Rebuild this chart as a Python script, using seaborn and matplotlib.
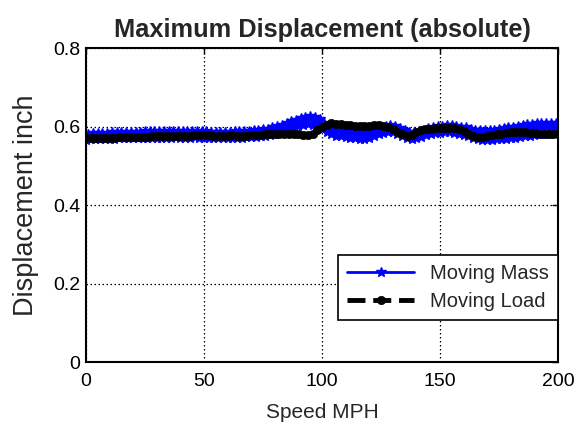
import numpy as np
import pandas as pd
import matplotlib
matplotlib.use("Agg")
import matplotlib.pyplot as plt
import seaborn as sns

# Moving Mass (blue): one sample per mph, it zig-zags point to point
speed_mass = list(range(0, 201))
moving_mass = [
    0.566, 0.582, 0.567, 0.583, 0.568, 0.583, 0.568, 0.584, 0.569, 0.584,
    0.569, 0.585, 0.569, 0.585, 0.570, 0.586, 0.570, 0.586, 0.570, 0.586,
    0.571, 0.587, 0.571, 0.587, 0.571, 0.588, 0.572, 0.588, 0.572, 0.588,
    0.571, 0.588, 0.572, 0.588, 0.572, 0.589, 0.572, 0.589, 0.573, 0.589,
    0.572, 0.588, 0.572, 0.589, 0.572, 0.589, 0.573, 0.589, 0.572, 0.588,
    0.571, 0.588, 0.571, 0.587, 0.570, 0.587, 0.570, 0.586, 0.570, 0.587,
    0.571, 0.587, 0.571, 0.588, 0.572, 0.588, 0.572, 0.589, 0.573, 0.589,
    0.573, 0.590, 0.574, 0.591, 0.575, 0.593, 0.577, 0.595, 0.579, 0.598,
    0.582, 0.601, 0.586, 0.605, 0.589, 0.609, 0.593, 0.613, 0.597, 0.617,
    0.601, 0.621, 0.604, 0.624, 0.606, 0.626, 0.605, 0.624, 0.602, 0.618,
    0.594, 0.608, 0.586, 0.600, 0.580, 0.596, 0.577, 0.594, 0.576, 0.593,
    0.574, 0.591, 0.572, 0.589, 0.570, 0.587, 0.568, 0.585, 0.567, 0.585,
    0.570, 0.589, 0.575, 0.594, 0.580, 0.599, 0.584, 0.602, 0.586, 0.603,
    0.585, 0.601, 0.581, 0.597, 0.575, 0.591, 0.570, 0.586, 0.568, 0.585,
    0.570, 0.588, 0.574, 0.592, 0.578, 0.596, 0.581, 0.599, 0.583, 0.601,
    0.584, 0.602, 0.585, 0.603, 0.585, 0.603, 0.584, 0.602, 0.582, 0.600,
    0.579, 0.598, 0.575, 0.595, 0.570, 0.592, 0.567, 0.590, 0.566, 0.590,
    0.566, 0.591, 0.566, 0.592, 0.567, 0.594, 0.568, 0.596, 0.569, 0.598,
    0.570, 0.600, 0.571, 0.602, 0.573, 0.604, 0.575, 0.606, 0.577, 0.607,
    0.579, 0.608, 0.580, 0.609, 0.581, 0.609, 0.582, 0.610, 0.583, 0.610,
    0.594,
]

# Moving Load (black dashed): one sample every 2 mph
speed_load = list(range(0, 201, 2))
moving_load = [
    0.570, 0.570, 0.571, 0.571, 0.572, 0.572, 0.572, 0.573, 0.573, 0.573,
    0.574, 0.574, 0.574, 0.574, 0.575, 0.575, 0.575, 0.576, 0.576, 0.576,
    0.577, 0.577, 0.577, 0.578, 0.578, 0.578, 0.578, 0.577, 0.576, 0.576,
    0.577, 0.578, 0.577, 0.576, 0.577, 0.578, 0.579, 0.579, 0.580, 0.580,
    0.580, 0.581, 0.581, 0.581, 0.580, 0.580, 0.579, 0.579, 0.582, 0.590,
    0.598, 0.605, 0.608, 0.607, 0.606, 0.604, 0.603, 0.602, 0.601, 0.601,
    0.602, 0.603, 0.603, 0.601, 0.598, 0.593, 0.587, 0.581, 0.576, 0.578,
    0.585, 0.590, 0.593, 0.595, 0.596, 0.597, 0.597, 0.597, 0.596, 0.594,
    0.589, 0.582, 0.576, 0.573, 0.574, 0.576, 0.578, 0.580, 0.582, 0.584,
    0.585, 0.586, 0.586, 0.585, 0.584, 0.583, 0.582, 0.582, 0.581, 0.581,
    0.580,
]

x_ticks = [0, 50, 100, 150, 200]
y_ticks = [0, 0.2, 0.4, 0.6, 0.8]

sns.set_style("white")
plt.rcParams['font.family'] = ['Liberation Sans', 'DejaVu Sans']

mass_df = pd.DataFrame({"speed": speed_mass, "disp": moving_mass})
load_df = pd.DataFrame({"speed": speed_load, "disp": moving_load})

fig = plt.figure(figsize=(5.77, 4.25), dpi=100)
ax = fig.add_axes([0.149, 0.148, 0.818, 0.739])

# seaborn gives markers a white edge by default, so set the edge colour
sns.lineplot(data=mass_df, x="speed", y="disp", ax=ax, color="blue",
             estimator=None, sort=False, linestyle="-",
             marker="*", markersize=7, markeredgewidth=1,
             markeredgecolor="blue", linewidth=2,
             label="Moving Mass")
sns.lineplot(data=load_df, x="speed", y="disp", ax=ax, color="black",
             estimator=None, sort=False, linestyle="--",
             marker="o", markersize=6, markeredgewidth=0.5,
             markeredgecolor="black", linewidth=3.5, label="Moving Load")

ax.set_xlim(0, 200)
ax.set_ylim(0, 0.8)
ax.set_xticks(x_ticks)
ax.set_yticks(y_ticks)
ax.set_xticklabels([str(t) for t in x_ticks])
ax.set_yticklabels(["0", "0.2", "0.4", "0.6", "0.8"])
ax.grid(True, color="black", linestyle=(0, (1.2, 2.0)), linewidth=0.9)
ax.tick_params(direction="in", length=4, width=1, top=True, right=True,
               labelsize=14, colors="black")
ax.tick_params(axis="x", pad=8)
ax.tick_params(axis="y", pad=4)
for s in ax.spines.values():
    s.set_color("black")
    s.set_linewidth(1.5)

ax.set_title("Maximum Displacement (absolute)", fontsize=18.3,
             fontweight="bold", pad=8)
ax.set_xlabel("Speed MPH", fontsize=15, labelpad=9)
ax.set_ylabel("Displacement inch", fontsize=19.5, labelpad=10)

leg = ax.legend(loc="lower right", bbox_to_anchor=(1.0, 0.134),
                borderaxespad=0, fontsize=14.5, fancybox=False,
                framealpha=1, edgecolor="black", handlelength=3.3,
                borderpad=0.45, labelspacing=0.45)
leg.get_frame().set_linewidth(1.2)

fig.savefig("out.png", dpi=100)
